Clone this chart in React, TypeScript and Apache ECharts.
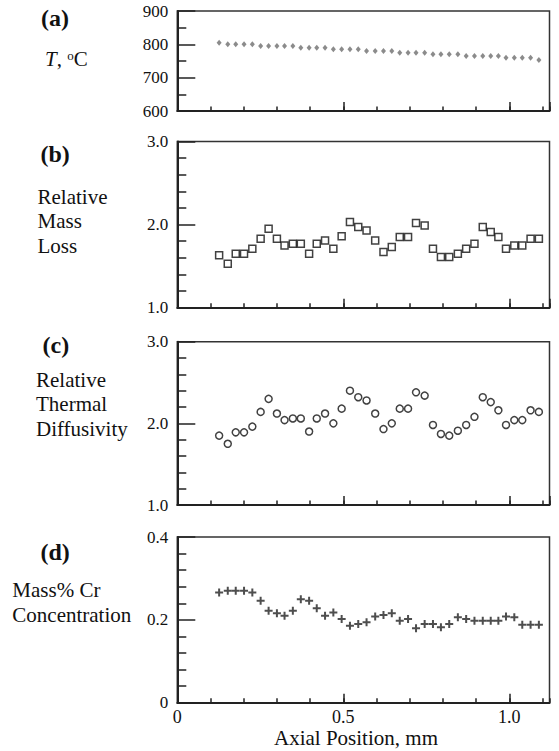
import React, { useEffect, useRef } from "react";
import * as echarts from "echarts";

// Axial positions (mm) shared by all four panels
const X_POS = [0.126, 0.152, 0.176, 0.201, 0.226, 0.251, 0.275, 0.300, 0.323, 0.348, 0.372, 0.397, 0.420, 0.445, 0.470, 0.495, 0.520, 0.545, 0.570, 0.596, 0.621, 0.646, 0.670, 0.695, 0.719, 0.745, 0.770, 0.794, 0.819, 0.845, 0.870, 0.895, 0.920, 0.944, 0.967, 0.990, 1.015, 1.039, 1.064, 1.089];

// (a) Temperature, °C
const TEMP = [805, 800, 800, 800, 800, 795, 795, 795, 795, 795, 790, 790, 790, 790, 785, 785, 785, 785, 780, 780, 780, 780, 775, 775, 775, 775, 770, 770, 770, 770, 765, 765, 765, 765, 765, 760, 760, 760, 760, 753];

// (b) Relative mass loss
const MASS_LOSS = [1.63, 1.53, 1.65, 1.65, 1.71, 1.83, 1.95, 1.83, 1.75, 1.77, 1.77, 1.65, 1.77, 1.81, 1.71, 1.86, 2.03, 1.97, 1.93, 1.81, 1.67, 1.73, 1.85, 1.85, 2.02, 1.99, 1.71, 1.61, 1.61, 1.65, 1.71, 1.77, 1.97, 1.91, 1.85, 1.71, 1.75, 1.75, 1.83, 1.83];

// (c) Relative thermal diffusivity
const DIFFUSIVITY = [1.85, 1.75, 1.89, 1.89, 1.96, 2.14, 2.30, 2.12, 2.04, 2.06, 2.06, 1.90, 2.06, 2.12, 2.00, 2.18, 2.40, 2.32, 2.28, 2.12, 1.93, 2.00, 2.18, 2.18, 2.38, 2.34, 1.98, 1.87, 1.85, 1.91, 1.98, 2.08, 2.32, 2.26, 2.16, 1.98, 2.04, 2.04, 2.16, 2.14];

// (d) Mass% Cr concentration
const CR = [0.266, 0.270, 0.270, 0.270, 0.266, 0.246, 0.222, 0.216, 0.210, 0.222, 0.250, 0.246, 0.228, 0.210, 0.218, 0.202, 0.186, 0.190, 0.194, 0.208, 0.212, 0.216, 0.198, 0.202, 0.180, 0.190, 0.190, 0.182, 0.190, 0.206, 0.202, 0.198, 0.198, 0.198, 0.198, 0.208, 0.206, 0.188, 0.188, 0.188];

const X_MIN = 0;
const X_MAX = 1.121;
const X_TICK_LABELS = ["0", "0.5", "1.0"];

const Y_MIN = [600, 1, 1, 0];
const Y_MAX = [900, 3, 3, 0.4];
const Y_INTERVAL = [100, 1, 1, 0.2];
const Y_MINOR_SPLIT = [2, 5, 5, 5];

const SERIF = "Liberation Serif";
const AXIS_COLOR = "#222";

export default function App() {
  const ref = useRef<HTMLDivElement>(null);

  useEffect(() => {
    if (!ref.current) return;
    const chart = echarts.init(ref.current, undefined, { renderer: "svg" });

    const gridTops = [11, 141.5, 341.7, 537];
    const gridHeights = [100, 166.2, 163.3, 165.7];
    const grid = gridTops.map((t, i) => ({
      left: 177.3,
      top: t,
      width: 372.2,
      height: gridHeights[i],
      show: true,
      borderColor: "#333",
      borderWidth: 1.5,
      backgroundColor: "transparent",
      containLabel: false,
    }));

    const xAxis: any[] = [];
    const yAxis: any[] = [];
    for (let i = 0; i < 4; i++) {
      xAxis.push({
        gridIndex: i,
        type: "value",
        position: "bottom",
        min: X_MIN,
        max: X_MAX,
        interval: 0.5,
        axisLine: { show: true, onZero: false, lineStyle: { color: AXIS_COLOR, width: 2 } },
        axisTick: { show: true, inside: true, length: 9, lineStyle: { color: AXIS_COLOR, width: 1.5 } },
        axisLabel: {
          show: i === 3,
          showMaxLabel: false,
          margin: 5,
          fontSize: 18,
          fontFamily: SERIF,
          color: "#111",
          formatter: (v: number) => {
            const idx = Math.round(v / 0.5);
            return Math.abs(v - idx * 0.5) < 1e-6 && idx < X_TICK_LABELS.length ? X_TICK_LABELS[idx] : "";
          },
        },
        splitLine: { show: false },
      });
      xAxis.push({
        gridIndex: i,
        type: "value",
        position: "bottom",
        min: X_MIN,
        max: X_MAX,
        interval: 0.1,
        axisLine: { show: false },
        axisTick: { show: true, inside: true, length: 4.5, lineStyle: { color: AXIS_COLOR, width: 1.5 } },
        axisLabel: { show: false },
        splitLine: { show: false },
      });
      yAxis.push({
        gridIndex: i,
        type: "value",
        min: Y_MIN[i],
        max: Y_MAX[i],
        interval: Y_INTERVAL[i],
        axisLine: { show: true, onZero: false, lineStyle: { color: AXIS_COLOR, width: 2 } },
        axisTick: { show: true, inside: true, length: 18, lineStyle: { color: AXIS_COLOR, width: 1.5 } },
        minorTick: { show: true, splitNumber: Y_MINOR_SPLIT[i], length: 9, lineStyle: { color: AXIS_COLOR, width: 1.5 } },
        axisLabel: {
          margin: 9,
          fontSize: 17,
          fontFamily: SERIF,
          color: "#111",
          formatter: (v: number) => {
            if (i === 0) return String(Math.round(v));
            if (i === 3) return v === 0 ? "0" : v.toFixed(1);
            return v.toFixed(1);
          },
        },
        splitLine: { show: false },
        minorSplitLine: { show: false },
      });
    }

    const pts = (vals: number[]) => X_POS.map((x, k) => [x, vals[k]]);

    const series: any[] = [
      {
        type: "scatter",
        xAxisIndex: 0,
        yAxisIndex: 0,
        data: pts(TEMP),
        symbol: "diamond",
        symbolSize: [5, 6],
        itemStyle: { color: "#6e6e6e" },
      },
      {
        type: "scatter",
        xAxisIndex: 2,
        yAxisIndex: 1,
        data: pts(MASS_LOSS),
        symbol: "rect",
        symbolSize: 7,
        itemStyle: { color: "#fff", borderColor: "#111", borderWidth: 1.5 },
      },
      {
        type: "scatter",
        xAxisIndex: 4,
        yAxisIndex: 2,
        data: pts(DIFFUSIVITY),
        symbol: "circle",
        symbolSize: 7,
        itemStyle: { color: "#fff", borderColor: "#111", borderWidth: 1.5 },
      },
      {
        type: "scatter",
        xAxisIndex: 6,
        yAxisIndex: 3,
        data: pts(CR),
        symbol: "path://M3,0H5V3H8V5H5V8H3V5H0V3H3Z",
        symbolSize: 8,
        itemStyle: { color: "#222" },
      },
    ];

    const txt = (text: string, x: number, y: number, size: number, bold = false, align = "left") => ({
      type: "text",
      x,
      y,
      silent: true,
      style: {
        text,
        fontSize: size,
        fontFamily: SERIF,
        fontWeight: bold ? "bold" : "normal",
        fill: "#111",
        textAlign: align,
        textVerticalAlign: "middle",
      },
    });

    const graphic: any[] = [
      txt("(a)", 41, 17.5, 24, true),
      {
        type: "text",
        x: 45,
        y: 59,
        silent: true,
        style: {
          text: "{i|T}{n|, }{s|o}{n|C}",
          fontSize: 21,
          fontFamily: SERIF,
          fill: "#111",
          textAlign: "left",
          textVerticalAlign: "middle",
          rich: {
            i: { fontStyle: "italic", fontSize: 21, fontFamily: SERIF, fill: "#111" },
            n: { fontSize: 21, fontFamily: SERIF, fill: "#111" },
            s: { fontSize: 13, fontFamily: SERIF, verticalAlign: "top", fill: "#111" },
          },
        },
      },
      txt("(b)", 40.5, 154, 24, true),
      txt("Relative", 37.5, 196.5, 21),
      txt("Mass", 37.5, 221, 21),
      txt("Loss", 37.5, 245.5, 21),
      txt("(c)", 42.5, 345, 24, true),
      txt("Relative", 36, 380, 21),
      txt("Thermal", 36, 404, 21),
      txt("Diffusivity", 36, 428.5, 21),
      txt("(d)", 40.5, 552, 24, true),
      txt("Mass% Cr", 12.3, 590, 21),
      txt("Concentration", 12.3, 615, 21),
      txt("Axial Position, mm", 356, 737.5, 21, false, "center"),
    ];

    chart.setOption({
      animation: false,
      backgroundColor: "#fff",
      grid,
      xAxis,
      yAxis,
      series,
      graphic,
    });

    return () => chart.dispose();
  }, []);

  return (
    <div
      ref={ref}
      style={{ position: "absolute", left: 0, top: 0, width: 559, height: 751 }}
    />
  );
}
